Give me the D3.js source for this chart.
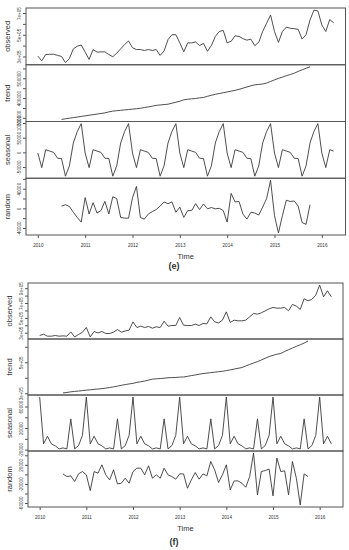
<!DOCTYPE html>
<html>
<head>
<meta charset="utf-8">
<script src="https://cdn.jsdelivr.net/npm/d3@7"></script>
<style>
  body { margin: 0; background: #fff; }
  svg { display: block; }
  text { font-family: "Liberation Sans", Arial, sans-serif; fill: #333; }
</style>
</head>
<body>
<svg id="chart" width="349" height="550"></svg>
<script>
// monthly series, Jan 2010 .. Apr 2016
const startYear = 2010;
const freq = 12;
const years = [2010, 2011, 2012, 2013, 2014, 2015, 2016];
const panelNames = ['observed', 'trend', 'seasonal', 'random'];

// ---- panel (e) ----
const observedE = [
  303000, 260000, 318000, 320000, 320000, 310000, 300000, 243000, 280000, 370000, 394000, 406000,
  340000, 273000, 364000, 340000, 342000, 342000, 318000, 297000, 330000, 370000, 410000, 443000,
  380000, 364000, 364000, 355000, 364000, 355000, 364000, 310000, 350000, 455000, 500000, 500000,
  425000, 343000, 425000, 425000, 434000, 400000, 420000, 348000, 400000, 485000, 530000, 540000,
  425000, 440000, 490000, 485000, 464000, 450000, 460000, 400000, 430000, 530000, 606000, 682000,
  530000, 430000, 530000, 570000, 560000, 556000, 550000, 460000, 500000, 636000, 727000, 720000,
  590000, 530000, 640000, 610000
];
const trendE = [
  null, null, null, null, null, null, 292000, 295000, 298000, 301000, 304000, 307000,
  310000, 313000, 316000, 319000, 322000, 325000, 330000, 334000, 336000, 338000, 340000, 342000,
  344000, 346000, 348000, 352000, 355000, 359000, 363000, 365000, 367000, 369000, 374000, 379000,
  384000, 391000, 394000, 396000, 398000, 401000, 403000, 409000, 414000, 419000, 423000, 427000,
  431000, 435000, 439000, 444000, 450000, 456000, 462000, 467000, 469000, 471000, 476000, 484000,
  492000, 500000, 506000, 513000, 519000, 526000, 535000, 543000, 551000, 558000, null, null,
  null, null, null, null
];
const seasonalE = [
  -2400, -52000, 9000, 4500, 0, -20000, -21000, -81000, -46000, 32000, 71000, 98000,
  -2400, -52000, 9000, 4500, 0, -20000, -21000, -81000, -46000, 32000, 71000, 98000,
  -2400, -52000, 9000, 4500, 0, -20000, -21000, -81000, -46000, 32000, 71000, 98000,
  -2400, -52000, 9000, 4500, 0, -20000, -21000, -81000, -46000, 32000, 71000, 98000,
  -2400, -52000, 9000, 4500, 0, -20000, -21000, -81000, -46000, 32000, 71000, 98000,
  -2400, -52000, 9000, 4500, 0, -20000, -21000, -81000, -46000, 32000, 71000, 98000,
  -2400, -52000, 9000, 4500
];
const randomE = [
  null, null, null, null, null, null, 4600, 7400, 3800, -8000, -18500, -28000,
  22000, -11600, 11600, -9500, -4600, 14300, -11600, 23600, 20000, -18500, -20000, -20000,
  21500, 44600, -18500, -22000, -11600, -6700, -2500, 4600, 13000, 9500, 13000, -8000,
  2500, -18500, -4600, -4600, 9500, -2500, 9000, -1000, 1700, -1000, 0, -4600,
  -28000, 30500, 13000, 14000, -11600, -22000, -8000, -9500, -13700, 2500, 20000, 57000,
  -15000, -50000, -15000, 16500, 14000, 15000, 4600, -29000, -32600, 7400, null, null,
  null, null, null, null
];
const ticksE = [
  [300000, 400000, 500000, 600000, 700000],
  [300000, 350000, 400000, 450000, 500000, 550000],
  [-50000, 0, 50000, 100000],
  [-40000, -20000, 0, 20000, 40000, 60000]
];
const labelsE = [
  ['3e+05', '', '5e+05', '', '7e+05'],
  ['300000', '', '400000', '', '500000', ''],
  ['-50000', '0', '50000', '100000'],
  ['-40000', '', '0', '', '40000', '']
];

// ---- panel (f) ----
const observedF = [
  262000, 280000, 253000, 253000, 262000, 253000, 257000, 253000, 311000, 243000, 276000, 307000,
  370000, 243000, 316000, 297000, 316000, 289000, 289000, 307000, 343000, 307000, 324000, 334000,
  446000, 370000, 388000, 370000, 384000, 361000, 379000, 370000, 455000, 388000, 397000, 397000,
  505000, 401000, 397000, 397000, 415000, 397000, 424000, 419000, 514000, 446000, 432000, 469000,
  581000, 438000, 469000, 460000, 460000, 469000, 514000, 559000, 550000, 568000, 595000, 622000,
  640000, 631000, 631000, 640000, 595000, 681000, 658000, 614000, 757000, 730000, 749000, 807000,
  942000, 784000, 865000, 784000
];
const trendF = [
  null, null, null, null, null, null, 302000, 305000, 309000, 312000, 314000, 317000,
  320000, 322000, 325000, 327000, 330000, 333000, 337000, 341000, 346000, 351000, 356000, 360000,
  364000, 370000, 374000, 379000, 385000, 391000, 393000, 395000, 397000, 400000, 401000, 402000,
  404000, 405000, 409000, 414000, 418000, 423000, 427000, 430000, 433000, 436000, 439000, 442000,
  446000, 451000, 456000, 461000, 466000, 476000, 486000, 495000, 504000, 515000, 526000, 537000,
  545000, 552000, 557000, 570000, 581000, 592000, 603000, 613000, 624000, 637000, null, null,
  null, null, null, null
];
const seasonalF = [
  77600, -9300, 4800, -9300, -13000, -18800, -16900, -18800, 37100, -18800, -12500, 6500,
  77600, -9300, 4800, -9300, -13000, -18800, -16900, -18800, 37100, -18800, -12500, 6500,
  77600, -9300, 4800, -9300, -13000, -18800, -16900, -18800, 37100, -18800, -12500, 6500,
  77600, -9300, 4800, -9300, -13000, -18800, -16900, -18800, 37100, -18800, -12500, 6500,
  77600, -9300, 4800, -9300, -13000, -18800, -16900, -18800, 37100, -18800, -12500, 6500,
  77600, -9300, 4800, -9300, -13000, -18800, -16900, -18800, 37100, -18800, -12500, 6500,
  77600, -9300, 4800, -9300
];
const randomF = [
  null, null, null, null, null, null, 1000, -4600, -3200, -15000, 1000, 5900,
  -1000, -34000, 5900, 2500, 20000, -1000, -11600, 9500, -20000, -18500, -8000, -18500,
  5900, 13000, 13000, -1000, 18000, -8000, -1000, -8000, 13000, -1000, -4600, -10000,
  1000, 1000, -29000, -11600, 3800, -10000, 1000, -3200, 27000, 9500, -17000, -1000,
  20000, -32600, -13700, -13700, -18500, -27000, -4600, 44600, -43000, 5900, 8000, 11000,
  -45000, 34000, 5900, 7400, -43000, 27000, -8000, -64000, 1000, -4600, null, null,
  null, null, null, null
];
const ticksF = [
  [300000, 400000, 500000, 600000, 700000, 800000, 900000],
  [300000, 400000, 500000, 600000],
  [-20000, 0, 20000, 40000, 60000],
  [-60000, -40000, -20000, 0, 20000, 40000]
];
const labelsF = [
  ['3e+05', '', '5e+05', '', '7e+05', '', '9e+05'],
  ['3e+05', '', '5e+05', ''],
  ['-20000', '', '20000', '', '60000'],
  ['-60000', '', '-20000', '', '20000', '']
];

const svg = d3.select('#chart');

const drawDecomp = (opt) => {
  const g = svg.append('g');
  const series = [opt.observed, opt.trend, opt.seasonal, opt.random];
  const n = opt.observed.length;
  const t1 = startYear + (n - 1) / freq;
  const padX = (t1 - startYear) * 0.04;
  const x = d3.scaleLinear()
    .domain([startYear - padX, t1 + padX])
    .range([opt.left, opt.right]);
  const panelH = (opt.bottom - opt.top) / 4;

  series.forEach((vals, k) => {
    const y0 = opt.top + k * panelH;
    const y1 = y0 + panelH;
    const ext = d3.extent(vals.filter(v => v != null));
    const padY = (ext[1] - ext[0]) * 0.04;
    const y = d3.scaleLinear()
      .domain([ext[0] - padY, ext[1] + padY])
      .range([y1, y0]);

    const line = d3.line()
      .defined(d => d != null)
      .x((d, i) => x(startYear + i / freq))
      .y(d => y(d));

    g.append('path')
      .datum(vals)
      .attr('d', line)
      .attr('fill', 'none')
      .attr('stroke', '#3a3a3a')
      .attr('stroke-width', 0.9)
      .attr('stroke-linejoin', 'round');

    g.append('rect')
      .attr('x', opt.left)
      .attr('y', y0)
      .attr('width', opt.right - opt.left)
      .attr('height', panelH)
      .attr('fill', 'none')
      .attr('stroke', '#555')
      .attr('stroke-width', 1);

    const labs = opt.labels[k];
    const ax = g.append('g')
      .attr('transform', `translate(${opt.left},0)`)
      .call(d3.axisLeft(y)
        .tickValues(opt.ticks[k])
        .tickSizeInner(3)
        .tickSizeOuter(0)
        .tickFormat((d, i) => labs[i]));
    ax.select('.domain').remove();
    ax.selectAll('line').attr('stroke', '#555');
    ax.selectAll('text')
      .attr('font-size', 4.6)
      .attr('fill', '#444')
      .attr('transform', 'rotate(-90)')
      .attr('x', 0)
      .attr('y', -5.5)
      .attr('dy', 0)
      .attr('text-anchor', 'middle');
    ax.attr('font-family', null);

    g.append('text')
      .attr('transform', `translate(${opt.left - 16.5},${(y0 + y1) / 2}) rotate(-90)`)
      .attr('text-anchor', 'middle')
      .attr('font-size', 7.5)
      .attr('fill', '#444')
      .text(panelNames[k]);
  });

  const xa = g.append('g')
    .attr('transform', `translate(0,${opt.bottom})`)
    .call(d3.axisBottom(x)
      .tickValues(years)
      .tickSizeInner(3)
      .tickSizeOuter(0)
      .tickFormat(d3.format('d')));
  xa.select('.domain').remove();
  xa.selectAll('line').attr('stroke', '#555');
  xa.selectAll('text')
    .attr('font-size', 4.6)
    .attr('fill', '#444')
    .attr('y', 9);
  xa.attr('font-family', null);

  g.append('text')
    .attr('x', (opt.left + opt.right) / 2)
    .attr('y', opt.bottom + 23.5)
    .attr('text-anchor', 'middle')
    .attr('font-size', 7.5)
    .attr('fill', '#444')
    .text('Time');

  g.append('text')
    .attr('x', opt.tagX)
    .attr('y', opt.tagY)
    .attr('text-anchor', 'middle')
    .attr('font-size', 9)
    .attr('font-weight', 'bold')
    .attr('fill', '#222')
    .text(opt.tag);
};

drawDecomp({
  observed: observedE, trend: trendE, seasonal: seasonalE, random: randomE,
  ticks: ticksE, labels: labelsE,
  left: 26, right: 345.5, top: 8, bottom: 235,
  tag: '(e)', tagX: 174, tagY: 269
});

drawDecomp({
  observed: observedF, trend: trendF, seasonal: seasonalF, random: randomF,
  ticks: ticksF, labels: labelsF,
  left: 28, right: 343, top: 283, bottom: 507,
  tag: '(f)', tagX: 174, tagY: 545
});
</script>
</body>
</html>
